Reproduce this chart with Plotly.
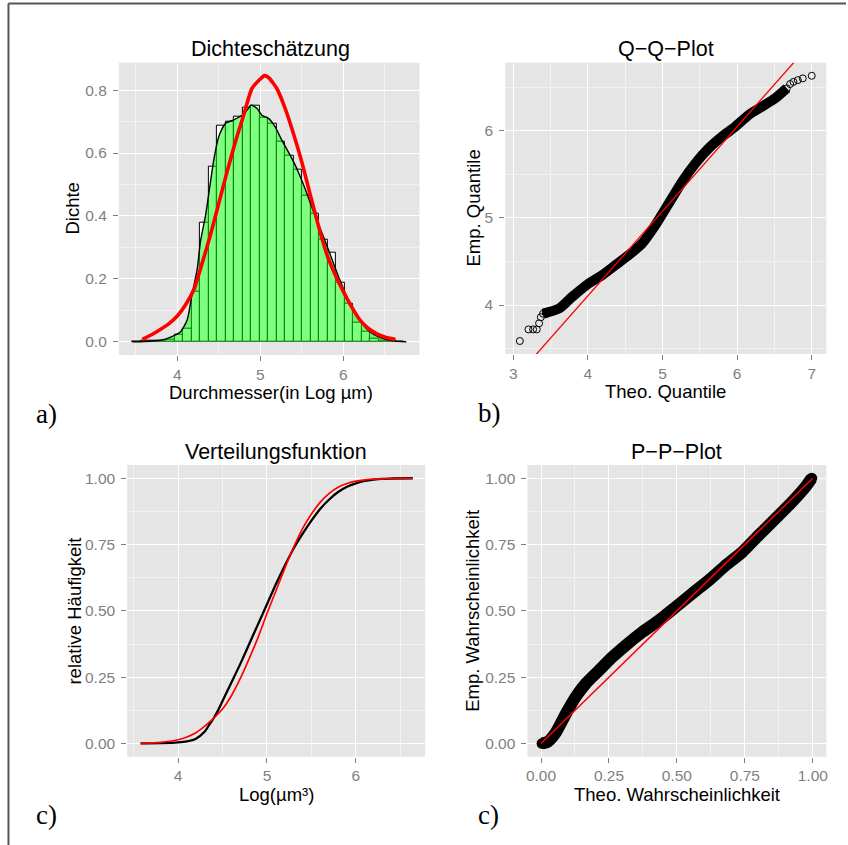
import numpy as np
import plotly.graph_objects as go

# ---------------- data ----------------
# histogram of log diameters (density scale), equal-width bins
hist_start = 3.4575
hist_width = 0.1025
hist_density = [0.0, 0.002, 0.002, 0.003, 0.008, 0.024, 0.042, 0.159, 0.378, 0.556,
                0.686, 0.700, 0.715, 0.745, 0.751, 0.713, 0.694, 0.636, 0.590, 0.546,
                0.463, 0.408, 0.325, 0.284, 0.188, 0.120, 0.060, 0.032, 0.011, 0.004,
                0.002, 0.0]

# kernel density estimate
kde_x = [3.46, 3.6, 3.8, 3.92, 4.04, 4.12, 4.18, 4.24, 4.28, 4.34, 4.44, 4.5, 4.58,
         4.68, 4.78, 4.84, 4.89, 4.96, 5.02, 5.1, 5.18, 5.26, 5.36, 5.44, 5.54, 5.62,
         5.7, 5.84, 5.96, 6.08, 6.2, 6.32, 6.44, 6.6, 6.76]
kde_y = [0.0, 0.001, 0.005, 0.015, 0.032, 0.07, 0.154, 0.23, 0.32, 0.40, 0.578, 0.652,
         0.694, 0.705, 0.72, 0.736, 0.752, 0.742, 0.72, 0.71, 0.683, 0.641, 0.593, 0.551,
         0.487, 0.429, 0.376, 0.28, 0.196, 0.122, 0.069, 0.032, 0.014, 0.003, 0.0]

# fitted normal density
norm_x = [3.58, 3.7, 3.8, 3.9, 4.0, 4.1, 4.2, 4.3, 4.4, 4.5, 4.6, 4.7, 4.8, 4.9, 5.0,
          5.05, 5.1, 5.2, 5.3, 5.4, 5.5, 5.6, 5.7, 5.8, 5.9, 6.0, 6.1, 6.2, 6.3, 6.4,
          6.5, 6.63]
norm_y = [0.008, 0.024, 0.04, 0.058, 0.082, 0.118, 0.166, 0.25, 0.34, 0.44, 0.54, 0.635,
          0.72, 0.805, 0.835, 0.846, 0.84, 0.805, 0.742, 0.662, 0.572, 0.47, 0.37, 0.28,
          0.215, 0.16, 0.112, 0.07, 0.043, 0.026, 0.015, 0.007]

# Q-Q plot: theoretical vs empirical quantiles
qq_theo = [3.089, 3.205, 3.267, 3.316, 3.347, 3.37, 3.40, 3.437, 3.615, 3.793, 4.016,
           4.194, 4.372, 4.55, 4.728, 4.906, 5.085, 5.263, 5.441, 5.619, 5.797, 5.976,
           6.154, 6.332, 6.51, 6.666, 6.71, 6.755, 6.813, 6.88, 7.0]
qq_emp = [3.587, 3.72, 3.72, 3.72, 3.79, 3.86, 3.90, 3.91, 3.96, 4.096, 4.25, 4.344,
          4.459, 4.574, 4.707, 4.918, 5.166, 5.415, 5.625, 5.797, 5.931, 6.046, 6.18,
          6.275, 6.371, 6.486, 6.535, 6.56, 6.58, 6.60, 6.63]
qq_dense = (6, 25)          # index range of the dense part of the point cloud
qq_intercept = 0.225
qq_slope = 0.97

# distribution functions
cdf_x = [3.578, 3.8, 4.0, 4.1, 4.2, 4.3, 4.35, 4.4, 4.45, 4.5, 4.6, 4.7, 4.8, 4.9, 5.0,
         5.1, 5.2, 5.3, 5.4, 5.5, 5.6, 5.7, 5.8, 5.9, 6.0, 6.1, 6.2, 6.3, 6.4, 6.64]
cdf_emp = [0.0, 0.001, 0.004, 0.008, 0.018, 0.045, 0.07, 0.095, 0.125, 0.16, 0.23, 0.30,
           0.375, 0.45, 0.525, 0.60, 0.67, 0.735, 0.79, 0.84, 0.885, 0.92, 0.948, 0.968,
           0.981, 0.99, 0.995, 0.998, 0.999, 1.0]
cdf_norm = [0.0, 0.004, 0.014, 0.024, 0.04, 0.065, 0.08, 0.095, 0.112, 0.13, 0.18, 0.245,
            0.32, 0.40, 0.49, 0.575, 0.66, 0.74, 0.81, 0.865, 0.91, 0.943, 0.966, 0.98,
            0.989, 0.994, 0.997, 0.998, 0.999, 1.0]

# P-P plot
pp_theo = [0.004, 0.024, 0.055, 0.092, 0.128, 0.165, 0.214, 0.263, 0.312, 0.373, 0.434,
           0.495, 0.556, 0.617, 0.679, 0.74, 0.80, 0.862, 0.923, 0.972, 0.996]
pp_emp = [0.0, 0.006, 0.042, 0.113, 0.176, 0.226, 0.276, 0.326, 0.37, 0.42, 0.464, 0.514,
          0.565, 0.615, 0.671, 0.721, 0.784, 0.847, 0.91, 0.966, 1.0]
pp_ref = [0.0, 1.0]

# ---------------- figure ----------------
W, H = 848, 845
FONT = "Liberation Sans"
GREY50 = "#7F7F7F"


def px(x):
    return x / W


def py(y):
    return 1 - y / H


fig = go.Figure()

# panel a: histogram + densities
edges = hist_start + hist_width * np.arange(len(hist_density) + 1)
centers = (edges[:-1] + edges[1:]) / 2
fig.add_trace(go.Bar(x=centers, y=hist_density, width=hist_width,
                     marker=dict(color="white", line=dict(color="black", width=1)),
                     xaxis="x", yaxis="y"))
fig.add_trace(go.Scatter(x=kde_x, y=kde_y, mode="lines", fill="tozeroy",
                         fillcolor="rgba(0,255,0,0.5)",
                         line=dict(color="black", width=1.4, shape="spline", smoothing=0.6),
                         xaxis="x", yaxis="y"))
fig.add_trace(go.Scatter(x=norm_x, y=norm_y, mode="lines",
                         line=dict(color="#FF0000", width=3.6, shape="spline", smoothing=0.6),
                         xaxis="x", yaxis="y"))

# panel b: Q-Q plot
a, b = qq_dense
fig.add_trace(go.Scatter(x=qq_theo[a:b + 1], y=qq_emp[a:b + 1], mode="lines",
                         line=dict(color="black", width=10, shape="spline", smoothing=0.6),
                         xaxis="x2", yaxis="y2"))
fig.add_trace(go.Scatter(x=qq_theo, y=qq_emp, mode="markers",
                         marker=dict(symbol="circle-open", size=7, color="black",
                                     line=dict(width=1)),
                         xaxis="x2", yaxis="y2"))
ab_x = np.array([2.8, 7.3])
fig.add_trace(go.Scatter(x=ab_x, y=qq_intercept + qq_slope * ab_x, mode="lines",
                         line=dict(color="#FF0000", width=1.3),
                         xaxis="x2", yaxis="y2"))

# panel c: distribution functions
fig.add_trace(go.Scatter(x=cdf_x, y=cdf_emp, mode="lines",
                         line=dict(color="black", width=2.3, shape="spline", smoothing=0.6),
                         xaxis="x3", yaxis="y3"))
fig.add_trace(go.Scatter(x=cdf_x, y=cdf_norm, mode="lines",
                         line=dict(color="#FF0000", width=1.7, shape="spline", smoothing=0.6),
                         xaxis="x3", yaxis="y3"))

# panel d: P-P plot
fig.add_trace(go.Scatter(x=pp_theo, y=pp_emp, mode="lines+markers",
                         line=dict(color="black", width=12, shape="spline", smoothing=0.6),
                         marker=dict(symbol="circle", size=11, color="black"),
                         xaxis="x4", yaxis="y4"))
fig.add_trace(go.Scatter(x=pp_ref, y=pp_ref, mode="lines",
                         line=dict(color="#FF0000", width=1.5),
                         xaxis="x4", yaxis="y4"))


def axis(domain, rng, dtick, minor, fmt=None, anchor=None, standoff=0):
    d = dict(domain=domain, range=rng, dtick=dtick, tick0=0,
             showgrid=True, gridcolor="white", gridwidth=1.2,
             minor=dict(dtick=minor, tick0=0, showgrid=True, gridcolor="#F2F2F2",
                        gridwidth=0.6, ticks=""),
             ticks="outside", ticklen=5, tickwidth=1, tickcolor=GREY50,
             tickfont=dict(family=FONT, size=15.5, color=GREY50),
             ticklabelstandoff=standoff,
             zeroline=False, showline=False, anchor=anchor, fixedrange=True)
    if fmt:
        d["tickformat"] = fmt
    return d


# panel rectangles (pixel edges)
p1 = (118.3, 420.0, 62.7, 355.0)
p2 = (506.0, 828.3, 62.7, 354.0)
p3 = (126.7, 425.7, 465.0, 756.7)
p4 = (528.3, 828.3, 465.0, 756.7)


def xd(p):
    return [px(p[0]), px(p[1])]


def yd(p):
    return [py(p[3]), py(p[2])]


fig.update_layout(
    width=W, height=H, margin=dict(l=0, r=0, t=0, b=0),
    paper_bgcolor="white", plot_bgcolor="#E5E5E5", showlegend=False,
    bargap=0,
    xaxis=axis(xd(p1), [3.296, 6.92], 1, 0.5, anchor="y"),
    yaxis=axis(yd(p1), [-0.042, 0.887], 0.2, 0.1, ".1f", anchor="x", standoff=3),
    xaxis2=axis(xd(p2), [2.893, 7.196], 1, 0.5, anchor="y2"),
    yaxis2=axis(yd(p2), [3.438, 6.78], 1, 0.5, anchor="x2", standoff=3),
    xaxis3=axis(xd(p3), [3.428, 6.78], 1, 0.5, anchor="y3"),
    yaxis3=axis(yd(p3), [-0.05, 1.05], 0.25, 0.125, ".2f", anchor="x3", standoff=3),
    xaxis4=axis(xd(p4), [-0.05, 1.05], 0.25, 0.125, ".2f", anchor="y4"),
    yaxis4=axis(yd(p4), [-0.05, 1.05], 0.25, 0.125, ".2f", anchor="x4", standoff=3),
)

# titles and axis labels
texts = [
    ("Dichteschätzung", 270.0, 49.3, 21.5, 0),
    ("Q\u2212Q\u2212Plot", 667.2, 49.3, 21.5, 0),
    ("Verteilungsfunktion", 276.2, 451.7, 21.5, 0),
    ("P\u2212P\u2212Plot", 678.3, 451.7, 21.5, 0),
    ("Durchmesser(in Log µm)", 270.5, 392.5, 18.5, 0),
    ("Theo. Quantile", 667.2, 391.0, 18.5, 0),
    ("Log(µm³)", 276.2, 794.0, 18.5, 0),
    ("Theo. Wahrscheinlichkeit", 678.3, 794.0, 18.5, 0),
    ("Dichte", 72.0, 208.8, 18.5, -90),
    ("Emp. Quantile", 473.7, 208.5, 18.5, -90),
    ("relative Häufigkeit", 74.0, 610.8, 18.5, -90),
    ("Emp. Wahrscheinlichkeit", 473.7, 610.8, 18.5, -90),
]
for t, x, y, s, ang in texts:
    fig.add_annotation(text=t, x=px(x), y=py(y), xref="paper", yref="paper",
                       showarrow=False, textangle=ang, xanchor="center", yanchor="middle",
                       font=dict(family=FONT, size=s, color="black"))

for t, x, y in [("a)", 46, 414), ("b)", 490, 413), ("c)", 46, 815), ("c)", 489, 815)]:
    fig.add_annotation(text=t, x=px(x), y=py(y), xref="paper", yref="paper",
                       showarrow=False, xanchor="center", yanchor="middle",
                       font=dict(family="Liberation Serif", size=27, color="black"))

# frame along the top and left edges
fig.add_shape(type="line", xref="paper", yref="paper", x0=px(7.5), x1=px(7.5),
              y0=0, y1=py(3.5), line=dict(color="#555555", width=2))
fig.add_shape(type="line", xref="paper", yref="paper", x0=px(7.5), x1=1,
              y0=py(3.5), y1=py(3.5), line=dict(color="#555555", width=2))

fig.write_html("out.html")
